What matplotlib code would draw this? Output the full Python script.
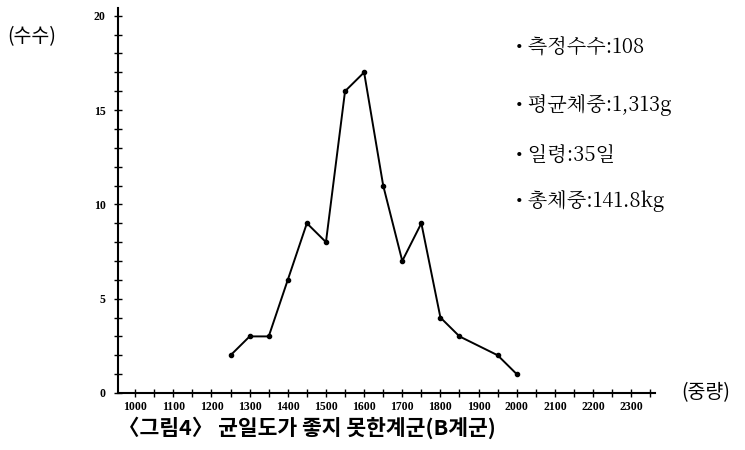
import matplotlib.pyplot as plt
from matplotlib.ticker import MultipleLocator

plt.rcParams['font.family'] = ['Noto Sans CJK KR', 'DejaVu Sans']

# weight classes (g) and bird counts
weights = [1250, 1300, 1350, 1400, 1450, 1500, 1550, 1600, 1650, 1700, 1750, 1800, 1850, 1950, 2000]
counts = [2, 3, 3, 6, 9, 8, 16, 17, 11, 7, 9, 4, 3, 2, 1]

xticks = [1000, 1100, 1200, 1300, 1400, 1500, 1600, 1700, 1800, 1900, 2000, 2100, 2200, 2300]
yticks = [0, 5, 10, 15, 20]

notes = ["측정수수:108", "평균체중:1,313g", "일령:35일", "총체중:141.8kg"]

fig = plt.figure(figsize=(7.45, 4.5), dpi=100)
ax = fig.add_axes([0.1584, 0.1267, 0.7206, 0.855])

ax.plot(weights, counts, color='black', lw=1.4, marker='o', ms=3)

ax.set_xlim(955, 2362)
ax.set_ylim(0, 20.4)
ax.spines['top'].set_visible(False)
ax.spines['right'].set_visible(False)
ax.spines['left'].set_linewidth(1.5)
ax.spines['bottom'].set_linewidth(1.5)

ax.set_xticks(xticks)
ax.xaxis.set_minor_locator(MultipleLocator(50))
ax.set_yticks(yticks)
ax.yaxis.set_minor_locator(MultipleLocator(1))
ax.tick_params(which='both', direction='inout', length=6, width=1.0)
ax.tick_params(axis='x', pad=3)
ax.tick_params(axis='y', pad=6)
for lab in ax.get_xticklabels() + ax.get_yticklabels():
    lab.set_family(['Liberation Serif', 'DejaVu Serif'])
    lab.set_fontsize(8.5)
    lab.set_fontweight('bold')

fig.text(0.010, 0.918, "(수수)", fontsize=14, ha='left', va='center')
fig.text(0.915, 0.127, "(중량)", fontsize=14, ha='left', va='center')

ys = [0.896, 0.767, 0.655, 0.553]
for t, y in zip(notes, ys):
    fig.text(0.692, y, "• " + t, fontsize=14.5, ha='left', va='center',
             family=['Noto Serif CJK KR', 'Noto Sans CJK KR', 'DejaVu Serif'])

fig.text(0.412, 0.050, "〈그림4〉 균일도가 좋지 못한계군(B계군)", fontsize=15.5,
         fontweight='bold', ha='center', va='center')

fig.savefig("out.png", dpi=100)
